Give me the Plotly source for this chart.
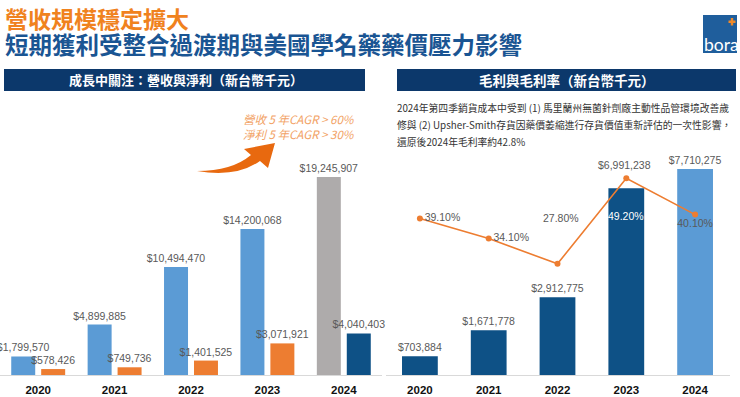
import plotly.graph_objects as go

# ---------------- data ----------------
years = ["2020", "2021", "2022", "2023", "2024"]
revenue = [1799570, 4899885, 10494470, 14200068, 19245907]
net_income = [578426, 749736, 1401525, 3071921, 4040403]
gross_profit = [703884, 1671778, 2912775, 6991238, 7710275]
gross_margin = [39.1, 34.1, 27.8, 49.2, 40.1]

title_line1 = "營收規模穩定擴大"
title_line2 = "短期獲利受整合過渡期與美國學名藥藥價壓力影響"
left_header = "成長中關注：營收與淨利（新台幣千元）"
right_header = "毛利與毛利率（新台幣千元）"
note_lines = [
    "2024年第四季銷貨成本中受到 (1) 馬里蘭州無菌針劑廠主動性品管環境改善歲",
    "修與 (2) Upsher-Smith存貨因藥價萎縮進行存貨價值重新評估的一次性影響，",
    "還原後2024年毛利率約42.8%",
]
cagr_lines = ["營收 5 年CAGR > 60%", "淨利 5 年CAGR > 30%"]

# ---------------- style ----------------
W, H = 740, 397
BLUE = "#5B9BD5"
ORANGE = "#ED7D31"
GRAY = "#AEABAB"
DARK = "#0E5186"
NAVY = "#0C386B"
NUM_FONT = "Liberation Sans, Arial, sans-serif"
CJK_FONT = "Noto Sans CJK TC, Noto Sans CJK SC, sans-serif"
LABEL = dict(family=NUM_FONT, size=10.5, color="#595959")


def px(x):
    return x / W


def py(y):
    return 1 - y / H


base = py(375)

fig = go.Figure()

fmt = lambda v: "${:,}".format(v)

fig.add_trace(go.Bar(
    x=years, y=revenue, xaxis="x", yaxis="y",
    marker=dict(color=[BLUE] * 4 + [GRAY], line=dict(width=0)),
    width=0.314, offset=-0.353,
    text=[fmt(v) for v in revenue], textposition="outside", textfont=LABEL,
    constraintext="none", cliponaxis=False, showlegend=False, hoverinfo="skip",
))
fig.add_trace(go.Bar(
    x=years, y=net_income, xaxis="x", yaxis="y",
    marker=dict(color=[ORANGE] * 4 + [DARK], line=dict(width=0)),
    width=0.314, offset=0.039,
    text=[fmt(v) for v in net_income], textposition="outside", textfont=LABEL,
    constraintext="none", cliponaxis=False, showlegend=False, hoverinfo="skip",
))
gp_text = [fmt(v) for v in gross_profit]
gp_text_bar = [t if i != 3 else "" for i, t in enumerate(gp_text)]
fig.add_trace(go.Bar(
    x=years, y=gross_profit, xaxis="x2", yaxis="y2",
    marker=dict(color=[DARK] * 4 + [BLUE], line=dict(width=0)),
    width=0.52, offset=-0.26,
    text=gp_text_bar, textposition="outside", textfont=LABEL,
    constraintext="none", cliponaxis=False, showlegend=False, hoverinfo="skip",
))

pct = ["{:.2f}%".format(v) for v in gross_margin]
line_text = [pct[0], pct[1], "", "", pct[4]]
fig.add_trace(go.Scatter(
    x=years, y=gross_margin, xaxis="x2", yaxis="y3",
    mode="lines+markers+text",
    line=dict(color=ORANGE, width=1.6),
    marker=dict(color=ORANGE, size=6),
    text=line_text,
    textposition=["middle right", "middle right", "top center", "top center", "bottom center"],
    textfont=LABEL,
    cliponaxis=False, showlegend=False, hoverinfo="skip",
))

annotations = []
# 2023 gross-profit label lifted above the margin marker
annotations.append(dict(x=3, y=gross_profit[3], xref="x2", yref="y2",
                        text=gp_text[3], showarrow=False, yshift=23, xshift=-2, font=LABEL))
# special margin labels (x given as category index)
annotations.append(dict(x=2, y=gross_margin[2], xref="x2", yref="y3",
                        text=pct[2], showarrow=False, yshift=46, xshift=3, font=LABEL))
annotations.append(dict(x=3, y=gross_margin[3], xref="x2", yref="y3",
                        text=pct[3], showarrow=False, yshift=-38,
                        font=dict(family=NUM_FONT, size=10.5, color="white")))

# titles
annotations.append(dict(x=px(3), y=py(18), xref="paper", yref="paper", xanchor="left", yanchor="middle",
                        text="<b>" + title_line1 + "</b>", showarrow=False,
                        font=dict(family=CJK_FONT, size=23, color="#F0821E")))
annotations.append(dict(x=px(3), y=py(44), xref="paper", yref="paper", xanchor="left", yanchor="middle",
                        text="<b>" + title_line2 + "</b>", showarrow=False,
                        font=dict(family=CJK_FONT, size=23.5, color="#1A5593")))
# headers
annotations.append(dict(x=px(186), y=py(80), xref="paper", yref="paper", xanchor="center", yanchor="middle",
                        text="<b>" + left_header + "</b>", showarrow=False,
                        font=dict(family=CJK_FONT, size=13, color="white")))
annotations.append(dict(x=px(567), y=py(80), xref="paper", yref="paper", xanchor="center", yanchor="middle",
                        text="<b>" + right_header + "</b>", showarrow=False,
                        font=dict(family=CJK_FONT, size=13.5, color="white")))
# note lines
for line, yy in zip(note_lines, [108, 125, 142]):
    annotations.append(dict(x=px(395), y=py(yy), xref="paper", yref="paper", xanchor="left", yanchor="middle",
                            text=line, showarrow=False,
                            font=dict(family=CJK_FONT, size=9.8, color="#333333")))
# CAGR text
for line, yy in zip(cagr_lines, [119, 134]):
    annotations.append(dict(x=px(357), y=py(yy), xref="paper", yref="paper", xanchor="right", yanchor="middle",
                            text="<i>" + line + "</i>", showarrow=False,
                            font=dict(family=CJK_FONT, size=11.5, color="#F2A265")))
# logo text
annotations.append(dict(x=px(702), y=py(44), xref="paper", yref="paper", xanchor="left", yanchor="middle",
                        text="bora", showarrow=False,
                        font=dict(family="Lato, Open Sans, sans-serif", size=17.5, color="white")))

shapes = []
# header bars
shapes.append(dict(type="rect", xref="paper", yref="paper", x0=px(4), x1=px(365), y0=py(91), y1=py(69),
                   fillcolor=NAVY, line=dict(width=0), layer="below"))
shapes.append(dict(type="rect", xref="paper", yref="paper", x0=px(397), x1=px(736), y0=py(91), y1=py(69),
                   fillcolor=NAVY, line=dict(width=0), layer="below"))
# logo
shapes.append(dict(type="rect", xref="paper", yref="paper", x0=px(703), x1=px(737), y0=py(53), y1=py(15),
                   fillcolor="#1F5E9C", line=dict(width=0), layer="below"))
shapes.append(dict(type="rect", xref="paper", yref="paper", x0=px(728.5), x1=px(735.5), y0=py(23), y1=py(20.5),
                   fillcolor="#F08A2A", line=dict(width=0)))
shapes.append(dict(type="rect", xref="paper", yref="paper", x0=px(730.8), x1=px(733.2), y0=py(25.5), y1=py(18),
                   fillcolor="#F08A2A", line=dict(width=0)))


# growth arrow (decorative)
def P(x, y):
    return "{:.5f},{:.5f}".format(px(x), py(y))


arrow = ("M " + P(197, 171) + " Q " + P(232, 171) + " " + P(251, 155) +
         " L " + P(244, 149) + " L " + P(275, 143) + " L " + P(268, 168) +
         " L " + P(260, 161) + " Q " + P(236, 178) + " " + P(197, 171) + " Z")
shapes.append(dict(type="path", xref="paper", yref="paper", path=arrow,
                   fillcolor="#E8690F", line=dict(width=0)))

axis_common = dict(type="category", showgrid=False, zeroline=False, showline=True,
                   linecolor="#D9D9D9", linewidth=1, ticks="", range=[-0.5, 4.5],
                   autorange=False, ticklabelstandoff=4,
                   tickfont=dict(family=NUM_FONT, size=11.5, color="#111111", weight="bold"))

fig.update_layout(
    width=W, height=H,
    margin=dict(l=0, r=0, t=0, b=0),
    paper_bgcolor="white", plot_bgcolor="white",
    xaxis=dict(domain=[0, px(382)], anchor="y", **axis_common),
    yaxis=dict(domain=[base, 1], range=[0, 3.645e7], visible=False, anchor="x"),
    xaxis2=dict(domain=[px(385.5), px(729.5)], anchor="y2", **axis_common),
    yaxis2=dict(domain=[base, 1], range=[0, 1.4036e7], visible=False, anchor="x2"),
    yaxis3=dict(domain=[base, 1], range=[0, 93.75], visible=False, overlaying="y2", anchor="x2"),
    barmode="overlay",
    annotations=annotations,
    shapes=shapes,
)

fig.write_html("out.html", config={"displayModeBar": False},
               post_script="document.body.style.margin='0';")
